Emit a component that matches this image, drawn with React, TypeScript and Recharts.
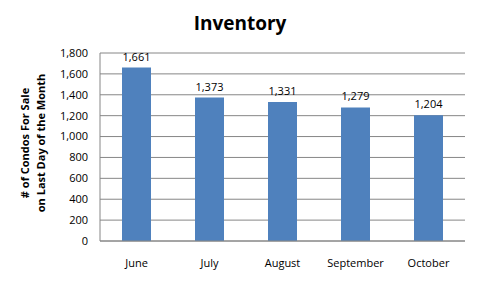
import React from 'react';
import { BarChart, Bar, XAxis, YAxis, CartesianGrid, LabelList } from 'recharts';

const months = ['June', 'July', 'August', 'September', 'October'];
const condosForSale = [1661, 1373, 1331, 1279, 1204];
const yTicks = [0, 200, 400, 600, 800, 1000, 1200, 1400, 1600, 1800];

const data = months.map((month, i) => ({ month, count: condosForSale[i] }));

const font = '"Open Sans", "Noto Sans", sans-serif';
const fmt = (v: number) => v.toLocaleString('en-US');

function YTitle(props: any) {
  const vb = props.viewBox || {};
  const cy = vb.y + vb.height / 2 - 4;
  return (
    <text
      transform={`translate(0, ${cy}) rotate(-90)`}
      textAnchor="middle"
      fontFamily={font}
      fontSize={11}
      fontWeight="bold"
      fill="#000"
    >
      <tspan x={0} y={29}># of Condos For Sale</tspan>
      <tspan x={0} y={45}>on Last Day of the Month</tspan>
    </text>
  );
}

export default function App() {
  return (
    <div style={{ position: 'absolute', left: 0, top: 0, width: 478, height: 284, background: '#fff' }}>
      <div
        style={{
          position: 'absolute',
          left: 0,
          top: 10,
          width: 478,
          textAlign: 'center',
          fontFamily: font,
          fontWeight: 'bold',
          fontSize: 19,
          color: '#000',
          paddingLeft: 2,
          boxSizing: 'border-box',
        }}
      >
        Inventory
      </div>
      <BarChart width={478} height={284} data={data} margin={{ top: 53, right: 13, bottom: 0, left: 0 }}>
        <CartesianGrid vertical={false} stroke="#868686" />
        <XAxis
          dataKey="month"
          height={43}
          tickLine={false}
          axisLine={{ stroke: '#868686' }}
          tickSize={0}
          tickMargin={18}
          tick={{ fontFamily: font, fontSize: 11, fill: '#000' }}
        />
        <YAxis
          width={100}
          domain={[0, 1800]}
          ticks={yTicks}
          interval={0}
          tickFormatter={fmt}
          tickLine={false}
          tickSize={0}
          tickMargin={12}
          axisLine={{ stroke: '#868686' }}
          tick={{ fontFamily: font, fontSize: 11, fill: '#000' }}
          label={<YTitle />}
        />
        <Bar dataKey="count" fill="#4F81BD" barSize={29} isAnimationActive={false}>
          <LabelList
            dataKey="count"
            position="top"
            offset={7}
            formatter={(v: any) => fmt(Number(v))}
            style={{ fontFamily: font, fontSize: 11, fill: '#000' }}
          />
        </Bar>
      </BarChart>
    </div>
  );
}
